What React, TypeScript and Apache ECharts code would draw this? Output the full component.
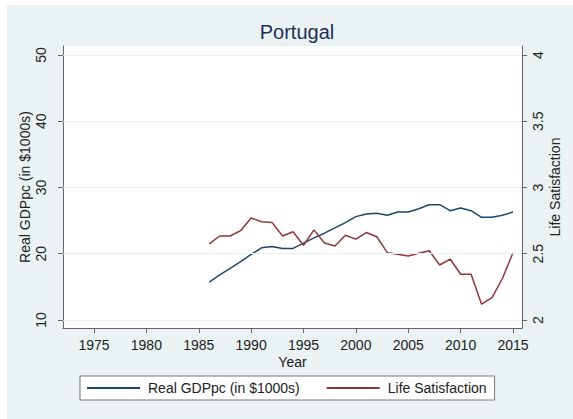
import React, { useEffect, useRef } from "react";
import * as echarts from "echarts";

const years = [1986, 1987, 1988, 1989, 1990, 1991, 1992, 1993, 1994, 1995, 1996, 1997, 1998, 1999, 2000, 2001, 2002, 2003, 2004, 2005, 2006, 2007, 2008, 2009, 2010, 2011, 2012, 2013, 2014, 2015];
const gdp = [15.7, 16.8, 17.8, 18.8, 19.9, 20.9, 21.1, 20.8, 20.8, 21.6, 22.4, 23.1, 23.9, 24.7, 25.6, 26.0, 26.1, 25.8, 26.3, 26.3, 26.8, 27.4, 27.4, 26.5, 26.9, 26.5, 25.5, 25.5, 25.8, 26.3];
const lifeSat = [2.574, 2.634, 2.634, 2.674, 2.77, 2.742, 2.735, 2.634, 2.666, 2.564, 2.68, 2.581, 2.558, 2.639, 2.61, 2.66, 2.628, 2.508, 2.496, 2.483, 2.503, 2.523, 2.415, 2.46, 2.345, 2.345, 2.119, 2.169, 2.315, 2.508];
const xTicks = [1975, 1980, 1985, 1990, 1995, 2000, 2005, 2010, 2015];
const leftTicks = [10, 20, 30, 40, 50];
const rightTicks = [2, 2.5, 3, 3.5, 4];

const FONT = "Liberation Sans, Arial, sans-serif";
const AXIS_COLOR = "#666";
const LABEL_COLOR = "#222";

export default function App() {
  const ref = useRef<HTMLDivElement>(null);
  useEffect(() => {
    document.body.style.margin = "0";
    const chart = echarts.init(ref.current!, null, { renderer: "svg" });
    const leftMin = 8.79;
    const leftMax = 51.36;
    const toRight = (v: number) => 2 + (v - 10) / 20;
    chart.setOption({
      animation: false,
      backgroundColor: "#fff",
      textStyle: { fontFamily: FONT },
      graphic: [
        {
          type: "rect",
          z: -10,
          shape: { x: 7, y: 5, width: 600, height: 450 },
          style: { fill: "#eaf2f3" },
        },
      ],
      title: {
        text: "Portugal",
        left: 292,
        textAlign: "center",
        top: 17,
        textStyle: { fontFamily: FONT, fontSize: 20, fontWeight: "normal", color: "#1e2d5c" },
      },
      grid: {
        left: 63,
        right: 51,
        top: 46,
        bottom: 91,
        show: true,
        backgroundColor: "#fff",
        borderWidth: 0,
      },
      legend: {
        left: 80,
        top: 376,
        orient: "horizontal",
        backgroundColor: "#fff",
        borderColor: "#777",
        borderWidth: 1,
        borderRadius: 0,
        padding: [5, 8, 5, 7],
        itemWidth: 53,
        itemHeight: 2,
        itemGap: 27,
        icon: "rect",
        textStyle: { fontFamily: FONT, fontSize: 14, color: LABEL_COLOR, padding: [0, 0, 0, 3] },
        data: ["Real GDPpc (in $1000s)", "Life Satisfaction"],
      },
      xAxis: {
        type: "value",
        min: 1972.04,
        max: 2015.86,
        name: "Year",
        nameLocation: "middle",
        nameGap: 27,
        nameMoveOverlap: false,
        nameTextStyle: { fontFamily: FONT, fontSize: 14, color: LABEL_COLOR },
        axisLine: { show: true, lineStyle: { color: AXIS_COLOR, width: 1 } },
        axisTick: { show: true, length: 5, customValues: xTicks, lineStyle: { color: AXIS_COLOR } },
        axisLabel: {
          customValues: xTicks,
          formatter: (v: number) => String(v),
          fontFamily: FONT,
          fontSize: 14,
          color: LABEL_COLOR,
          margin: 10,
        },
        splitLine: { show: false },
      },
      yAxis: [
        {
          type: "value",
          position: "left",
          min: leftMin,
          max: leftMax,
          name: "Real GDPpc (in $1000s)",
          nameLocation: "middle",
          nameGap: 31,
          nameMoveOverlap: false,
          nameRotate: 90,
          nameTextStyle: { fontFamily: FONT, fontSize: 14, color: LABEL_COLOR },
          axisLine: { show: true, lineStyle: { color: AXIS_COLOR, width: 1 } },
          axisTick: { show: true, length: 5, customValues: leftTicks, lineStyle: { color: AXIS_COLOR } },
          axisLabel: { customValues: leftTicks, rotate: 90, fontFamily: FONT, fontSize: 14, color: LABEL_COLOR, margin: 15 },
          splitLine: { show: false },
        },
        {
          type: "value",
          position: "right",
          min: toRight(leftMin),
          max: toRight(leftMax),
          name: "Life Satisfaction",
          nameLocation: "middle",
          nameGap: 26,
          nameMoveOverlap: false,
          nameRotate: 90,
          nameTextStyle: { fontFamily: FONT, fontSize: 14, color: LABEL_COLOR },
          axisLine: { show: true, lineStyle: { color: AXIS_COLOR, width: 1 } },
          axisTick: { show: true, length: 5, customValues: rightTicks, lineStyle: { color: AXIS_COLOR } },
          axisLabel: { customValues: rightTicks, rotate: 90, fontFamily: FONT, fontSize: 14, color: LABEL_COLOR, margin: 9 },
          splitLine: { show: false },
        },
      ],
      series: [
        {
          name: "grid",
          type: "line",
          z: 1,
          yAxisIndex: 0,
          data: [[1980, 30]],
          showSymbol: false,
          symbol: "none",
          lineStyle: { width: 0 },
          silent: true,
          markLine: {
            silent: true,
            symbol: "none",
            label: { show: false },
            lineStyle: { color: "#e6eff1", width: 1.2, type: "solid" },
            data: leftTicks.map((v) => ({ yAxis: v })),
          },
        },
        {
          name: "Real GDPpc (in $1000s)",
          type: "line",
          z: 3,
          yAxisIndex: 0,
          data: years.map((y, i) => [y, gdp[i]]),
          symbol: "none",
          color: "#1a476f",
          lineStyle: { color: "#1a476f", width: 1.5 },
        },
        {
          name: "Life Satisfaction",
          type: "line",
          z: 3,
          yAxisIndex: 1,
          data: years.map((y, i) => [y, lifeSat[i]]),
          symbol: "none",
          color: "#90353b",
          lineStyle: { color: "#90353b", width: 1.5 },
        },
      ],
    });
    return () => chart.dispose();
  }, []);
  return <div ref={ref} style={{ width: 573, height: 419 }} />;
}
